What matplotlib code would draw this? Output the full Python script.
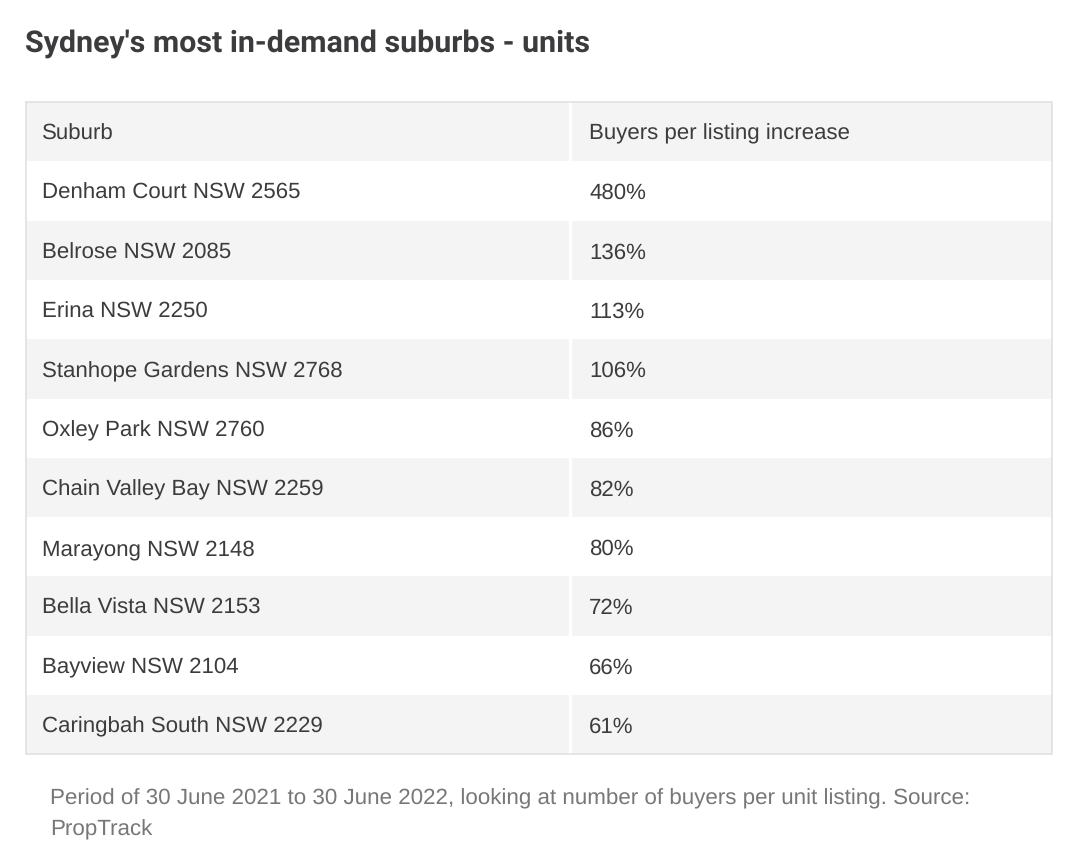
import matplotlib
matplotlib.use('Agg')
import matplotlib.pyplot as plt

title = "Sydney's most in-demand suburbs - units"
headers = ['Suburb', 'Buyers per listing increase']
suburbs = ['Denham Court NSW 2565', 'Belrose NSW 2085', 'Erina NSW 2250',
           'Stanhope Gardens NSW 2768', 'Oxley Park NSW 2760',
           'Chain Valley Bay NSW 2259', 'Marayong NSW 2148',
           'Bella Vista NSW 2153', 'Bayview NSW 2104', 'Caringbah South NSW 2229']
increase = [480, 136, 113, 106, 86, 82, 80, 72, 66, 61]
note = ['Period of 30 June 2021 to 30 June 2022, looking at number of buyers per unit listing. Source:',
        'PropTrack']

plt.rcParams['text.hinting'] = 'none'

# axes in image pixels so the layout is easy to compare
fig = plt.figure(figsize=(10.8, 8.49), dpi=100)
ax = fig.add_axes([0, 0, 1, 1])
ax.set_xlim(0, 1080)
ax.set_ylim(849, 0)
ax.axis('off')

left, right = 26, 1052
split = 570
top = 102
row_h = 59.3
body_font = 'Liberation Sans'
text_col = '#3c3c3e'

rows = [headers] + [[s, f'{v}%'] for s, v in zip(suburbs, increase)]
for i, row in enumerate(rows):
    y = top + i * row_h
    if i % 2 == 0:
        ax.barh(y, right - left, height=row_h, left=left, align='edge',
                color='#f4f4f4', linewidth=0)
    ax.text(42, y + row_h / 2 + 8.2, row[0], fontsize=16.0, family=body_font,
            color=text_col, va='baseline')
    ax.text(589, y + row_h / 2 + 8.2, row[1], fontsize=16.0, family=body_font,
            color=text_col, va='baseline')

bottom = top + len(rows) * row_h
ax.plot([split, split], [top, bottom], color='white', lw=2.4, solid_capstyle='butt')
ax.plot([left, right, right, left, left], [top, top, bottom, bottom, top],
        color='#e3e3e3', lw=1.3)

ax.text(25, 51.5, title, fontsize=21.9, family='Roboto', weight='bold',
        color='#3c3c3e', va='baseline')
ax.text(50, 804, note[0], fontsize=16.1, family=body_font, color='#77777a',
        va='baseline')
ax.text(50, 835, note[1], fontsize=16.1, family=body_font, color='#77777a',
        va='baseline')

fig.savefig('out.png', dpi=100)
